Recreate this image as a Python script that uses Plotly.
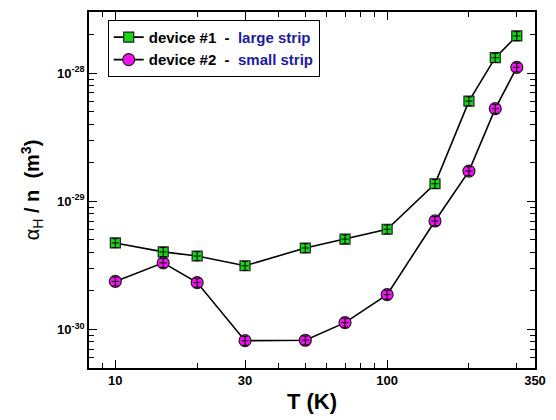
import math
import plotly.graph_objects as go

# Temperature (K)
T = [10, 15, 20, 30, 50, 70, 100, 150, 200, 250, 300]

# Hall coefficient normalised by carrier density, alpha_H / n (m^3)
dev1_large = [4.73e-30, 4.03e-30, 3.74e-30, 3.14e-30, 4.32e-30, 5.07e-30,
              6.05e-30, 1.37e-29, 6.05e-29, 1.32e-28, 1.95e-28]
dev2_small = [2.37e-30, 3.31e-30, 2.32e-30, 8.17e-31, 8.23e-31, 1.13e-30,
              1.87e-30, 7.02e-30, 1.72e-29, 5.28e-29, 1.11e-28]

# Relative uncertainty (percent) of each measurement
err_y_pct = 8
err_x_pct = 3

x_major = [10, 30, 100, 350]
x_minor = [8, 9, 20, 40, 50, 60, 70, 80, 90, 200, 300]
y_major = [1e-30, 1e-29, 1e-28]
y_major_text = ["10<sup>-30</sup>", "10<sup>-29</sup>", "10<sup>-28</sup>"]
y_minor = [m * 10.0 ** e for e in (-31, -30, -29, -28) for m in range(2, 10)
           if 5e-31 <= m * 10.0 ** e <= 3e-28]

FONT = "Liberation Sans, Arial, sans-serif"
GREEN = "#16d616"
MAGENTA = "#f012f0"
BLUE = "#1c1ca0"

fig = go.Figure()

series = [
    (dev1_large, "square", GREEN, 10,
     "device #1\u00a0\u00a0-\u00a0\u00a0<span style='color:%s'>large strip</span>" % BLUE),
    (dev2_small, "circle", MAGENTA, 12,
     "device #2\u00a0\u00a0-\u00a0\u00a0<span style='color:%s'>small strip</span>" % BLUE),
]

for vals, sym, col, size, name in series:
    fig.add_trace(go.Scatter(
        x=T, y=vals, mode="lines+markers", name=name,
        line=dict(color="black", width=1.6),
        marker=dict(symbol=sym, size=size, color=col,
                    line=dict(color="#202020", width=1.2)),
    ))
    # error bars drawn over the markers
    fig.add_trace(go.Scatter(
        x=T, y=vals, mode="markers", showlegend=False, hoverinfo="skip",
        marker=dict(size=size, opacity=0),
        error_y=dict(type="percent", value=err_y_pct, color="black",
                     thickness=1, width=3),
        error_x=dict(type="percent", value=err_x_pct, color="black",
                     thickness=1, width=0),
    ))

axis_common = dict(
    showgrid=False, zeroline=False, showline=True, linecolor="black",
    linewidth=1.5, mirror="allticks", ticks="inside", ticklen=8,
    tickwidth=1.2, tickcolor="black",
    tickfont=dict(family=FONT, size=13, color="black", weight="bold"),
)

fig.update_xaxes(
    type="log", range=[math.log10(8), math.log10(350)],
    tickmode="array", tickvals=x_major, ticktext=[str(v) for v in x_major],
    minor=dict(tickmode="array", tickvals=x_minor, ticks="inside",
               ticklen=5, tickwidth=1, tickcolor="black"),
    title=dict(text="T (K)", font=dict(family=FONT, size=22, color="black",
                                       weight="bold"), standoff=6),
    **axis_common,
)
fig.update_yaxes(
    type="log", range=[math.log10(5e-31), math.log10(3e-28)],
    tickmode="array", tickvals=y_major, ticktext=y_major_text,
    minor=dict(tickmode="array", tickvals=y_minor, ticks="inside",
               ticklen=5, tickwidth=1, tickcolor="black"),
    title=dict(text="<span style='font-weight:normal'>\u03b1<sub>H</sub></span>"
                    " / n\u00a0\u00a0(m<sup>3</sup>)",
               font=dict(family=FONT, size=20, color="black", weight="bold"),
               standoff=12),
    **axis_common,
)

fig.update_layout(
    width=556, height=420,
    margin=dict(l=89, r=11, t=10, b=50),
    paper_bgcolor="white", plot_bgcolor="white",
    font=dict(family=FONT, color="black"),
    legend=dict(
        x=0.042, y=0.978, xanchor="left", yanchor="top",
        bgcolor="white", bordercolor="black", borderwidth=1,
        font=dict(family=FONT, size=15, color="black", weight="bold"),
        tracegroupgap=0,
    ),
    showlegend=True,
)

fig.write_html("out.html")
